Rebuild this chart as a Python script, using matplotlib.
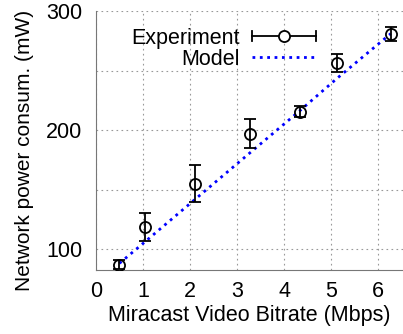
import matplotlib
matplotlib.use('Agg')
import matplotlib.pyplot as plt
from matplotlib.legend_handler import HandlerBase
from matplotlib.lines import Line2D
from matplotlib.container import ErrorbarContainer

plt.rcParams['font.family'] = ['Liberation Sans', 'DejaVu Sans']

# Measured power vs. Miracast bitrate
bitrate = [0.5, 1.04, 2.1, 3.28, 4.33, 5.13, 6.27]
power = [87, 118.5, 155, 197, 215.5, 256, 280.5]
power_err = [4, 12, 15.5, 12.5, 4.5, 7.5, 6]
model = [88, 106, 141.5, 181, 216, 243.5, 281]


# gnuplot-style legend key: horizontal bar with caps and a circle
class HandlerGnuErr(HandlerBase):
    def create_artists(self, legend, orig_handle, xdescent, ydescent,
                       width, height, fontsize, trans):
        y = height / 2 - ydescent
        x0, x1 = -xdescent, width - xdescent
        c = height * 0.35
        arts = [Line2D([x0, x1], [y, y], color='black', lw=1.3),
                Line2D([x0, x0], [y - c, y + c], color='black', lw=1.3),
                Line2D([x1, x1], [y - c, y + c], color='black', lw=1.3),
                Line2D([(x0 + x1) / 2], [y], marker='o', mfc='white',
                       mec='black', ms=8, mew=1.3)]
        for a in arts:
            a.set_transform(trans)
        return arts


fig = plt.figure(figsize=(4.03, 3.34), dpi=100)
ax = fig.add_axes([0.238, 0.1916, 0.762, 0.7754])

ax.plot(bitrate, model, linestyle=':', color='blue', linewidth=2, label='Model', zorder=2)
eb = ax.errorbar(bitrate, power, yerr=power_err, fmt='o', mfc='none', mec='black',
                 color='black', markersize=8, markeredgewidth=1.3, elinewidth=1.3,
                 capsize=4, capthick=1.3, label='Experiment', zorder=3)

ax.set_xlim(0, 6.53)
ax.set_ylim(82.4, 300)
ax.set_xticks(range(0, 7))
ax.set_yticks([100, 150, 200, 250, 300])
ax.set_yticklabels(['100', '', '200', '', '300'])
ax.tick_params(axis='y', length=0, labelsize=15.5, pad=10)
ax.tick_params(axis='x', length=0, labelsize=15.5, pad=8)
ax.grid(True, linestyle=(0, (1.5, 3)), color='#999999', linewidth=0.8)
for s in ['top', 'right']:
    ax.spines[s].set_visible(False)
for s in ['left', 'bottom']:
    ax.spines[s].set_color('#777777')

ax.set_xlabel('Miracast Video Bitrate (Mbps)', fontsize=15.5, labelpad=2)
ax.set_ylabel('Network power consum. (mW)', fontsize=15)
ax.yaxis.set_label_coords(-0.2, 0.463)

h, l = ax.get_legend_handles_labels()
ax.legend(h[::-1], l[::-1], loc='upper right', bbox_to_anchor=(0.717, 0.936),
          frameon=False, markerfirst=False, fontsize=15.5, handlelength=3.0,
          handletextpad=0.55, labelspacing=0.0, borderaxespad=0, borderpad=0,
          handler_map={ErrorbarContainer: HandlerGnuErr()})

fig.savefig('out.png', dpi=100)
